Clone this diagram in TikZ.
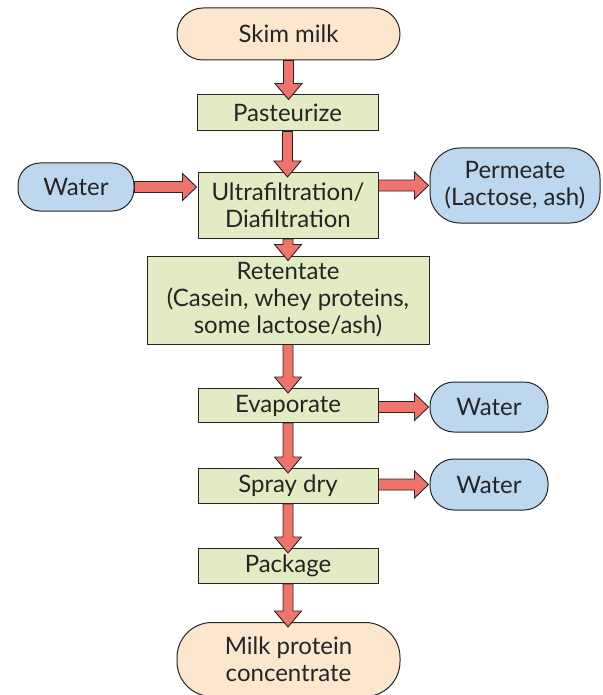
\documentclass[tikz,border=0pt]{standalone}
\usepackage{fontspec}
\setmainfont{Lato}
\usetikzlibrary{calc}
\definecolor{peach}{HTML}{FDE6CE}
\definecolor{leaf}{HTML}{E2EBC4}
\definecolor{sky}{HTML}{BCD7EE}
\definecolor{flow}{HTML}{F0746E}
\definecolor{ink}{HTML}{262424}
\tikzset{
  base/.style={draw=ink, line width=1pt, text=ink, align=center,
    font=\fontsize{24}{27}\selectfont, inner sep=0pt},
  stepbox/.style={base, fill=leaf, minimum width=180pt},
  endcap/.style={base, fill=peach, minimum width=223pt},
  sidecap/.style={base, fill=sky},
  flowarrow/.style={fill=flow, draw=ink, line width=0.9pt, line join=miter}
}
% vertical block arrow: bottom of #1 to top of #2
\newcommand\vflow[2]{%
  \path[flowarrow] let \p1=(#1.south), \p2=(#2.north) in
    (\x1-5pt,\y1) -- (\x1-5pt,\y2+11pt) -- (\x1-13.5pt,\y2+11pt)
    -- (\x1,\y2-5pt) -- (\x1+13.5pt,\y2+11pt) -- (\x1+5pt,\y2+11pt)
    -- (\x1+5pt,\y1) -- cycle;}
% horizontal block arrow: right side of #1 to left side of #2, at the height of #3
\newcommand\hflow[3]{%
  \path[flowarrow] let \p1=(#1.east), \p2=(#2.west), \p3=(#3) in
    (\x1,\y3+5.5pt) -- (\x2-15pt,\y3+5.5pt) -- (\x2-15pt,\y3+13.5pt)
    -- (\x2-1pt,\y3) -- (\x2-15pt,\y3-13.5pt) -- (\x2-15pt,\y3-5.5pt)
    -- (\x1,\y3-5.5pt) -- cycle;}
\begin{document}
\begin{tikzpicture}[x=1pt, y=-1pt]
  \useasboundingbox (0,0) rectangle (602,695);
  \fill[white] (0,0) rectangle (602,695);

  \node[endcap, minimum height=52pt, rounded corners=26pt] (skim) at (288.5,34) {Skim milk};
  \node[stepbox, minimum width=181pt, minimum height=36pt] (past) at (287.5,113) {Pasteurize};
  \node[sidecap, minimum width=116pt, minimum height=48pt, rounded corners=22pt] (waterin) at (76,187) {Water};
  \node[stepbox, minimum height=66pt] (uf) at (288,205.5) {Ultrafiltration/\\Diafiltration};
  \node[sidecap, minimum width=170pt, minimum height=75pt, rounded corners=30pt] (perm) at (515,185.5) {Permeate\\(Lactose, ash)};
  \node[stepbox, minimum width=282pt, minimum height=88pt] (ret) at (288,300) {Retentate\\(Casein, whey proteins,\\some lactose/ash)};
  \node[stepbox, minimum height=34pt] (evap) at (288,405.5) {Evaporate};
  \node[sidecap, minimum width=118pt, minimum height=50pt, rounded corners=24pt] (waterev) at (489,407) {Water};
  \node[stepbox, minimum height=35pt] (spray) at (288,486) {Spray dry};
  \node[sidecap, minimum width=118pt, minimum height=51pt, rounded corners=24pt] (watersp) at (489,484.5) {Water};
  \node[stepbox, minimum height=35pt] (pack) at (288,566) {Package};
  \node[endcap, minimum height=74pt, rounded corners=35pt] (mpc) at (288.5,659.5) {Milk protein\\concentrate};

  \vflow{skim}{past}
  \vflow{past}{uf}
  \vflow{uf}{ret}
  \vflow{ret}{evap}
  \vflow{evap}{spray}
  \vflow{spray}{pack}
  \vflow{pack}{mpc}
  \hflow{waterin}{uf}{waterin}
  \hflow{uf}{perm}{perm}
  \hflow{evap}{waterev}{waterev}
  \hflow{spray}{watersp}{watersp}
\end{tikzpicture}
\end{document}
